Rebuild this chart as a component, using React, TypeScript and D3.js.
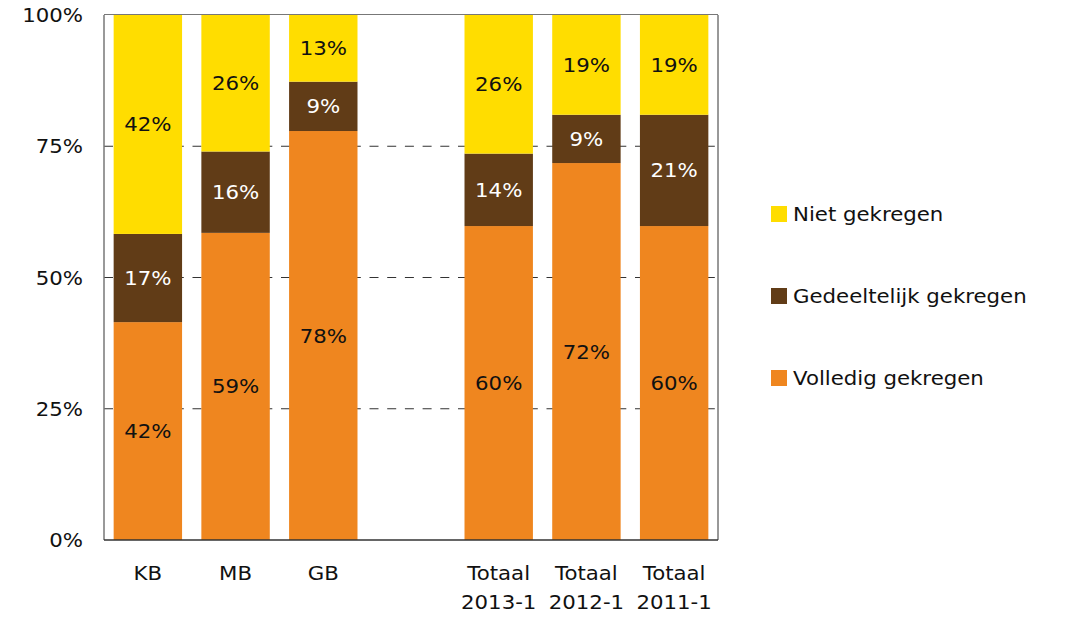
import React from "react";
import * as d3 from "d3";

const categories = ["KB", "MB", "GB", "", "Totaal\n2013-1", "Totaal\n2012-1", "Totaal\n2011-1"];
const volledig = [41.5, 58.5, 77.9, null, 59.8, 71.8, 59.8];
const gedeeltelijk = [16.8, 15.5, 9.4, null, 13.8, 9.2, 21.2];
const niet = [41.7, 26.0, 12.7, null, 26.4, 19.0, 19.0];
const seriesNames = ["Volledig gekregen", "Gedeeltelijk gekregen", "Niet gekregen"];
const seriesColors = ["#EF861F", "#613C17", "#FFDD00"];
const labelColors = ["#111111", "#ffffff", "#111111"];
const yTicks = [0, 25, 50, 75, 100];

const W = 1066, H = 632;
const left = 104, right = 718, top = 15, bottom = 540;
const FONT = "'DejaVu Sans', Verdana, sans-serif";
const FS = 19;
const SX = 1.12;

export default function App() {
  const x = d3.scaleBand<string>().domain(categories.map((c, i) => i + "")).range([left, right]).paddingInner(0.22).paddingOuter(0.11);
  const y = d3.scaleLinear().domain([0, 100]).range([bottom, top]);
  const rows = categories.map((c, i) => ({ i, v: volledig[i], g: gedeeltelijk[i], n: niet[i] }));
  const stack = d3.stack<any>().keys(["v", "g", "n"]).value((d: any, k: string) => d[k] ?? 0);
  const layers = stack(rows);

  const T = (props: any) => {
    const { x: tx, y: ty, children, anchor = "middle", fill = "#111" } = props;
    return (
      <text transform={`translate(${tx},${ty}) scale(${SX},1)`} textAnchor={anchor} fill={fill} fontFamily={FONT} fontSize={FS}>
        {children}
      </text>
    );
  };

  return (
    <svg width={W} height={H} style={{ position: "absolute", left: 0, top: 0, background: "#fff" }}>
      {yTicks.filter(t => t > 0 && t < 100).map(t => (
        <line key={t} x1={left} x2={right} y1={y(t)} y2={y(t)} stroke="#333" strokeWidth={1.2} strokeDasharray="9,8.7" />
      ))}
      {layers.map((layer, li) => (
        <g key={li}>
          {layer.map((seg: any, ci: number) => {
            if (rows[ci].v == null) return null;
            const x0 = x(ci + "")!;
            const bw = x.bandwidth();
            const y0 = y(seg[1]);
            const h = y(seg[0]) - y(seg[1]);
            const val = seg[1] - seg[0];
            return (
              <g key={ci}>
                <rect x={x0} y={y0} width={bw} height={h} fill={seriesColors[li]} />
                <T x={x0 + bw / 2} y={y0 + h / 2 + 7} fill={labelColors[li]}>{Math.round(val) + "%"}</T>
              </g>
            );
          })}
        </g>
      ))}
      <line x1={left} x2={right} y1={top - 0.5} y2={top - 0.5} stroke="#777" />
      <line x1={right} x2={right} y1={top} y2={bottom} stroke="#333" />
      <line x1={left} x2={left} y1={top} y2={bottom} stroke="#777" strokeWidth={1.5} />
      <line x1={left} x2={right} y1={bottom} y2={bottom} stroke="#333" strokeWidth={1.5} />
      {yTicks.map(t => (
        <T key={t} x={83} y={y(t) + 7} anchor="end">{t + "%"}</T>
      ))}
      {categories.map((c, i) => c ? (
        <g key={i}>
          {c.split("\n").map((line, li) => (
            <T key={li} x={x(i + "")! + x.bandwidth() / 2} y={580 + li * 29}>{line}</T>
          ))}
        </g>
      ) : null)}
      {[2, 1, 0].map((si, k) => {
        const cy = 214 + k * 82;
        return (
          <g key={si}>
            <rect x={771} y={cy - 8} width={16} height={16} fill={seriesColors[si]} />
            <T x={793} y={cy + 7} anchor="start">{seriesNames[si]}</T>
          </g>
        );
      })}
    </svg>
  );
}
